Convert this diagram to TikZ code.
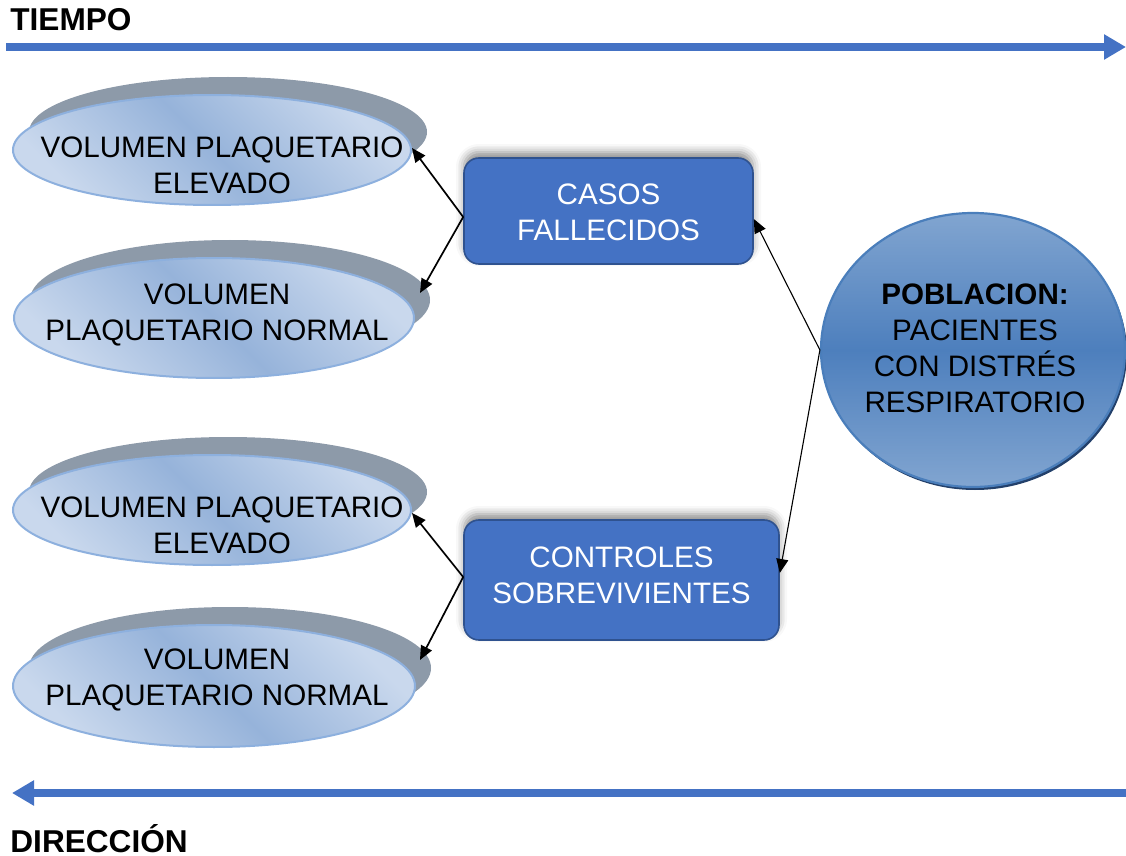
\documentclass[tikz,border=0pt]{standalone}
\usepackage{fontspec}
\setmainfont{Liberation Sans}
\usetikzlibrary{shapes.geometric,arrows.meta,shadows.blur}
\definecolor{arrowblue}{HTML}{4472C4}
\definecolor{boxblue}{HTML}{4472C4}
\definecolor{boxborder}{HTML}{2F528F}
\definecolor{ellLight}{HTML}{C9D8ED}
\definecolor{ellMid}{HTML}{96B3DA}
\definecolor{ellborder}{HTML}{8DB0DE}
\definecolor{shadowgray}{HTML}{8D9AA9}
\definecolor{cLight}{HTML}{96B4D8}
\definecolor{cDark}{HTML}{4D7FBD}
\definecolor{cborder}{HTML}{4A7EBB}
\definecolor{cshadow}{HTML}{23406A}
\pgfdeclarehorizontalshading{ellshade}{100bp}{color(0bp)=(ellLight); color(25bp)=(ellLight); color(50bp)=(ellMid); color(75bp)=(ellLight); color(100bp)=(ellLight)}
\pgfdeclareverticalshading{circshade}{100bp}{color(0bp)=(cLight); color(15bp)=(cLight); color(50bp)=(cDark); color(85bp)=(cLight); color(100bp)=(cLight)}
\begin{document}
\begin{tikzpicture}[x=0.5pt,y=-0.5pt,
  shadowell/.style={ellipse, fill=shadowgray, draw=none, inner sep=0pt},
  volell/.style={ellipse, draw=ellborder, line width=1pt, inner sep=0pt, shading=ellshade, shading angle=45},
  voltext/.style={align=center, inner sep=0pt, font=\fontsize{14.8}{18}\selectfont},
  boxnode/.style={rectangle, rounded corners=7.5pt, fill=boxblue, draw=boxborder, line width=0.8pt,
     blur shadow={shadow xshift=0pt, shadow yshift=3pt, shadow blur radius=4pt, shadow opacity=45}},
  boxtext/.style={align=center, inner sep=0pt, text=white, font=\fontsize{14.8}{18}\selectfont},
  link/.style={-{Triangle[length=7pt,width=6pt]}, line width=0.85pt, black},
  thinlink/.style={-{Triangle[length=7pt,width=6pt]}, line width=0.55pt, black},
  bigarrow/.style={line width=4pt, arrowblue, -{Triangle[length=11pt,width=12pt]}},
  title/.style={inner sep=0pt, anchor=base west, font=\fontsize{15.8}{18}\selectfont\bfseries}
]
\useasboundingbox (0,0) rectangle (1126,856);

% time / direction arrows
\node[title] (tiempo) at (10,31) {TIEMPO};
\coordinate (t0) at (6,47);
\coordinate (t1) at (1126,47);
\draw[bigarrow] (t0) -- (t1);
\coordinate (d0) at (1126,793);
\coordinate (d1) at (12,793);
\draw[bigarrow] (d0) -- (d1);
\node[title] (direccion) at (10,852) {DIRECCIÓN};

% ellipses (shadows first)
\node[shadowell, minimum width=199pt, minimum height=55pt] (s1) at (228,132) {};
\node[volell, minimum width=199pt, minimum height=55pt] (e1) at (212,150) {};
\node[voltext] (e1t) at (222,165) {VOLUMEN PLAQUETARIO\\ELEVADO};

\node[shadowell, minimum width=200pt, minimum height=60pt] (s2) at (230,300) {};
\node[volell, minimum width=200pt, minimum height=60pt] (e2) at (214,318) {};
\node[voltext] (e2t) at (217,315) {VOLUMEN\\PLAQUETARIO NORMAL};

\node[shadowell, minimum width=199pt, minimum height=55pt] (s3) at (228,492) {};
\node[volell, minimum width=199pt, minimum height=55pt] (e3) at (212,510) {};
\node[voltext] (e3t) at (222,525) {VOLUMEN PLAQUETARIO\\ELEVADO};

\node[shadowell, minimum width=201pt, minimum height=61pt] (s4) at (230,668) {};
\node[volell, minimum width=201pt, minimum height=61pt] (e4) at (214,686) {};
\node[voltext] (e4t) at (217,680) {VOLUMEN\\PLAQUETARIO NORMAL};

% boxes
\node[boxnode, minimum width=144.5pt, minimum height=53pt] (c1) at (608.5,211) {};
\node[boxtext] (c1t) at (608.5,212) {CASOS\\FALLECIDOS};
\node[boxnode, minimum width=157.5pt, minimum height=60pt] (c2) at (621.5,580) {};
\node[boxtext] (c2t) at (621.5,575) {CONTROLES\\SOBREVIVIENTES};

% population circle
\node[ellipse, fill=cshadow, inner sep=0pt, minimum width=152pt, minimum height=137pt] (ps) at (975,353) {};
\node[ellipse, shading=circshade, draw=cborder, line width=1.1pt, inner sep=0pt, minimum width=152pt, minimum height=137pt] (p) at (973,350) {};
\node[voltext] (pt) at (975,348) {\textbf{POBLACION:}\\PACIENTES\\CON DISTRÉS\\RESPIRATORIO};

% arrow targets
\coordinate (e1tip) at (412,148);
\coordinate (e2tip) at (420,293);
\coordinate (e3tip) at (412,513);
\coordinate (e4tip) at (420,660);

% connectors
\draw[link] ([yshift=-3pt]c1.west) -- (e1tip);
\draw[link] ([yshift=-3pt]c1.west) -- (e2tip);
\draw[link] ([yshift=1.5pt]c2.west) -- (e3tip);
\draw[link] ([yshift=1.5pt]c2.west) -- (e4tip);
\draw[thinlink] (p.west) -- ([yshift=-4pt]c1.east);
\draw[thinlink] (p.west) -- ([yshift=3.5pt]c2.east);
\end{tikzpicture}
\end{document}
